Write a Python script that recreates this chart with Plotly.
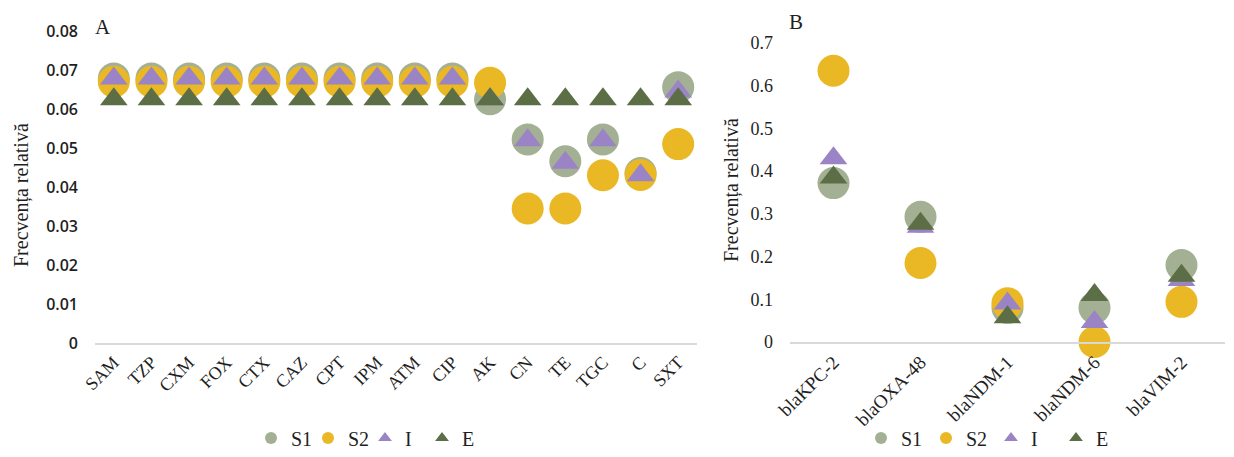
import plotly.graph_objects as go

# Panel A data
cats_a = ["SAM", "TZP", "CXM", "FOX", "CTX", "CAZ", "CPT", "IPM", "ATM", "CIP",
          "AK", "CN", "TE", "TGC", "C", "SXT"]
a_s1 = [0.0678, 0.0678, 0.0678, 0.0678, 0.0678, 0.0678, 0.0678, 0.0678, 0.0678, 0.0678,
        0.0625, 0.0522, 0.0466, 0.0522, 0.0436, 0.0656]
a_s2 = [0.0670, 0.0670, 0.0670, 0.0670, 0.0670, 0.0670, 0.0670, 0.0670, 0.0670, 0.0670,
        0.0667, 0.0345, 0.0345, 0.0430, 0.0431, 0.0510]
a_i = [0.0678, 0.0678, 0.0678, 0.0678, 0.0678, 0.0678, 0.0678, 0.0678, 0.0678, 0.0678,
       0.0625, 0.0520, 0.0462, 0.0520, 0.0430, 0.0645]
a_e = [0.0625] * 16

# Panel B data
cats_b = ["blaKPC-2", "blaOXA-48", "blaNDM-1", "blaNDM-6", "blaVIM-2"]
b_s1 = [0.372, 0.293, 0.080, 0.080, 0.180]
b_s2 = [0.635, 0.185, 0.091, 0.000, 0.094]
b_i = [0.430, 0.270, 0.090, 0.047, 0.145]
b_e = [0.385, 0.277, 0.058, 0.110, 0.155]

series = ["S1", "S2", "I", "E"]
colors = {"S1": "#A3B093", "S2": "#E9B824", "I": "#9B84C6", "E": "#5C6E45"}
symbols = {"S1": "circle", "S2": "circle", "I": "triangle-up", "E": "triangle-up"}
sizes = {"S1": 32, "S2": 32, "I": 24, "E": 24}

# the page body has an 8px margin, so the figure is offset by (8, 8) in the window
OFF = 8
W, H = 1234 - OFF, 457 - OFF
fig = go.Figure()

data_a = {"S1": a_s1, "S2": a_s2, "I": a_i, "E": a_e}
data_b = {"S1": b_s1, "S2": b_s2, "I": b_i, "E": b_e}

for s in series:
    fig.add_trace(go.Scatter(
        x=cats_a, y=data_a[s], mode="markers", name=s, legend="legend",
        marker=dict(color=colors[s], symbol=symbols[s], size=sizes[s], line=dict(width=0)),
        cliponaxis=False, xaxis="x", yaxis="y"))
for s in series:
    fig.add_trace(go.Scatter(
        x=cats_b, y=data_b[s], mode="markers", name=s, legend="legend2",
        marker=dict(color=colors[s], symbol=symbols[s], size=sizes[s], line=dict(width=0)),
        cliponaxis=False, xaxis="x2", yaxis="y2"))

serif = "Liberation Serif"
txt = "#1f1f1f"

def px(p):
    return (p - OFF) / W

def py(p):
    return 1 - (p - OFF) / H

fig.update_layout(
    template="none",
    width=W, height=H,
    margin=dict(l=0, r=0, t=0, b=0, autoexpand=False),
    paper_bgcolor="white", plot_bgcolor="white",
    showlegend=True,
    xaxis=dict(domain=[px(95), px(697)], anchor="y", showgrid=False, zeroline=False,
               automargin=False,
               showline=True, linecolor="#D9D9D9", linewidth=1.5, ticks="",
               tickangle=-45, tickfont=dict(family=serif, size=18, color=txt),
               range=[-0.5, 15.5]),
    yaxis=dict(domain=[py(343), py(31)], anchor="x", range=[0, 0.08], dtick=0.01,
               automargin=False,
               showgrid=False, zeroline=False, showline=False, ticks="",
               tickformat="~g", ticklabelstandoff=16,
               tickfont=dict(family="Open Sans", size=16, color=txt, weight=600)),
    xaxis2=dict(domain=[px(790), px(1225)], anchor="y2", showgrid=False, zeroline=False,
                automargin=False,
                showline=True, linecolor="#D9D9D9", linewidth=1.5, ticks="",
                tickangle=-45, tickfont=dict(family=serif, size=19, color=txt),
                range=[-0.5, 4.5]),
    yaxis2=dict(domain=[py(342), py(43)], anchor="x2", range=[0, 0.7], dtick=0.1,
                automargin=False,
                showgrid=False, zeroline=False, showline=False, ticks="",
                tickformat="~g", ticklabelstandoff=16,
                tickfont=dict(family=serif, size=18, color=txt)),
    legend=dict(orientation="h", x=px(251), xanchor="left", y=py(438), yanchor="middle",
                font=dict(family=serif, size=20, color=txt), itemsizing="constant",
                itemwidth=30, entrywidth=12, bgcolor="rgba(0,0,0,0)"),
    legend2=dict(orientation="h", x=px(861), xanchor="left", y=py(438), yanchor="middle",
                 font=dict(family=serif, size=20, color=txt), itemsizing="constant",
                 itemwidth=30, entrywidth=20, bgcolor="rgba(0,0,0,0)"),
    annotations=[
        dict(text="A", x=px(103), y=py(27), xref="paper", yref="paper", showarrow=False,
             xanchor="center", yanchor="middle", font=dict(family=serif, size=21, color=txt)),
        dict(text="B", x=px(796), y=py(22), xref="paper", yref="paper", showarrow=False,
             xanchor="center", yanchor="middle", font=dict(family=serif, size=21, color=txt)),
        dict(text="Frecvența relativă", x=px(22), y=py(195), xref="paper", yref="paper",
             showarrow=False, textangle=-90, xanchor="center", yanchor="middle",
             borderpad=0, font=dict(family=serif, size=20, color=txt)),
        dict(text="Frecvența relativă", x=px(731), y=py(190), xref="paper", yref="paper",
             showarrow=False, textangle=-90, xanchor="center", yanchor="middle",
             borderpad=0, font=dict(family=serif, size=20, color=txt)),
    ],
)

fig.write_html("out.html")
